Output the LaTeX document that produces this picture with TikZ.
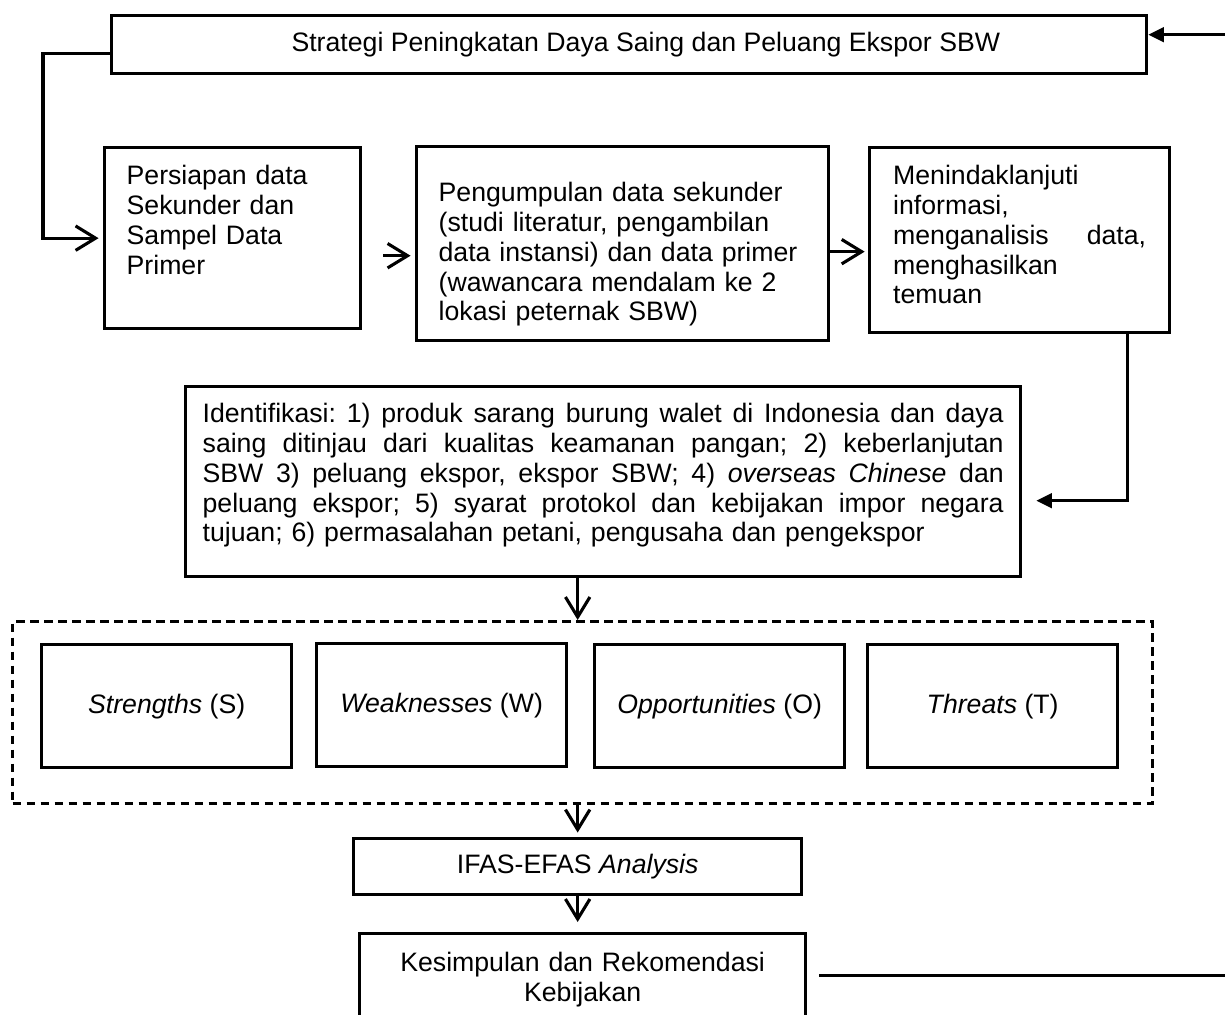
\documentclass[tikz,border=0pt]{standalone}
\usepackage{fontspec}
\setmainfont{Liberation Sans}
\usetikzlibrary{arrows.meta}
\newcommand{\spreadline}[2]{\leavevmode\hbox to #1{\frenchspacing
  \spaceskip=0.278em plus 1fil\relax #2}}
\tikzset{
  stepbox/.style={draw=black,line width=1.5pt,anchor=north west,inner sep=0pt,
    font=\fontsize{12}{13.4}\selectfont},
  swotbox/.style={stepbox,minimum width=112.5pt,minimum height=55.35pt},
  groupbox/.style={draw=black,line width=1.4pt,dash pattern=on 4pt off 2.3pt,
    anchor=north west,minimum width=513pt,minimum height=81.9pt,inner sep=0pt},
  flowarc/.style={-{Straight Barb[length=9pt,width=11pt]},line width=1.4pt},
  backarc/.style={-{Triangle[length=7pt,width=6.5pt]},line width=1.4pt}
}

\begin{document}
\begin{tikzpicture}[x=0.45pt,y=-0.45pt]
  \useasboundingbox (0,0) rectangle (1225,1015);
  \clip (0,0) rectangle (1225,1015);
  \node[stepbox,minimum width=465.75pt,minimum height=26.1pt] (strategy) at (110,14)
    {\hspace*{15pt}Strategi Peningkatan Daya Saing dan Peluang Ekspor SBW};
  \node[stepbox,align=left,minimum width=115.2pt,text width=95.4pt,
    text height=16.65pt,text depth=64.8pt] (prep) at (103,146)
    {Persiapan data\\Sekunder dan\\Sampel Data\\Primer};
  \node[stepbox,align=left,minimum width=185.4pt,text width=165.6pt,
    text height=24.75pt,text depth=62.55pt] (collect) at (415,145)
    {Pengumpulan data sekunder\\(studi literatur, pengambilan\\data instansi) dan data primer\\(wawancara mendalam ke 2\\lokasi peternak SBW)};
  \node[stepbox,align=left,minimum width=135pt,text width=113.85pt,
    text height=16.65pt,text depth=66.6pt] (follow) at (868,146)
    {Menindaklanjuti\\informasi,\\\spreadline{113.85pt}{menganalisis data,}\\menghasilkan\\temuan};
  \node[stepbox,align=left,minimum width=375.75pt,text width=360.45pt,
    text height=16.2pt,text depth=69.3pt] (ident) at (184,385)
    {\spreadline{360.45pt}{Identifikasi: 1) produk sarang burung walet di Indonesia dan daya}\\
     \spreadline{360.45pt}{saing ditinjau dari kualitas keamanan pangan; 2) keberlanjutan}\\
     \spreadline{360.45pt}{SBW 3) peluang ekspor, ekspor SBW; 4) \textit{overseas Chinese} dan}\\
     \spreadline{360.45pt}{peluang ekspor; 5) syarat protokol dan kebijakan impor negara}\\
     tujuan; 6) permasalahan petani, pengusaha dan pengekspor};
  \node[groupbox] (swot) at (11,620) {};
  \node[swotbox] (str) at (40,643) {\textit{Strengths} (S)};
  \node[swotbox] (weak) at (315,642) {\textit{Weaknesses} (W)};
  \node[swotbox] (opp) at (593,643) {\textit{Opportunities} (O)};
  \node[swotbox] (thr) at (866,643) {\textit{Threats} (T)};
  \node[stepbox,minimum width=201.6pt,minimum height=25.2pt] (ifas) at (352,837)
    {IFAS-EFAS \textit{Analysis}};
  \node[stepbox,align=center,minimum width=200.7pt,text width=190pt,
    text height=17.1pt,text depth=22.5pt] (kes) at (358,932)
    {Kesimpulan dan Rekomendasi\\Kebijakan};
  \coordinate (a1) at ([yshift=-7.9pt]prep.east);
  \coordinate (a2) at ([yshift=-3.6pt]collect.east);
  \coordinate (a3) at ([xshift=48.6pt]follow.south);
  \draw[flowarc,shorten >=2pt] ([yshift=-4pt]strategy.west) -- ++(-67,0) |- (prep.west);
  \draw[flowarc,shorten <=9.5pt,shorten >=2pt] (a1) -- (a1 -| collect.west);
  \draw[flowarc,shorten >=1.5pt] (a2) -- (a2 -| follow.west);
  \draw[backarc,shorten >=6.3pt] (a3) |- ([yshift=-8.55pt]ident.east);
  \draw[flowarc] (ident.south -| ifas.north) -- (swot.north -| ifas.north);
  \draw[flowarc,shorten >=2pt] (swot.south -| ifas.north) -- (ifas.north);
  \draw[flowarc,shorten >=4.5pt] (ifas.south) -- (ifas.south |- kes.north);
  \draw[backarc,shorten <=5.4pt] ([yshift=0.9pt]kes.east) -- ++(440,0)
    |- ([yshift=4.5pt]strategy.east);
\end{tikzpicture}
\end{document}
